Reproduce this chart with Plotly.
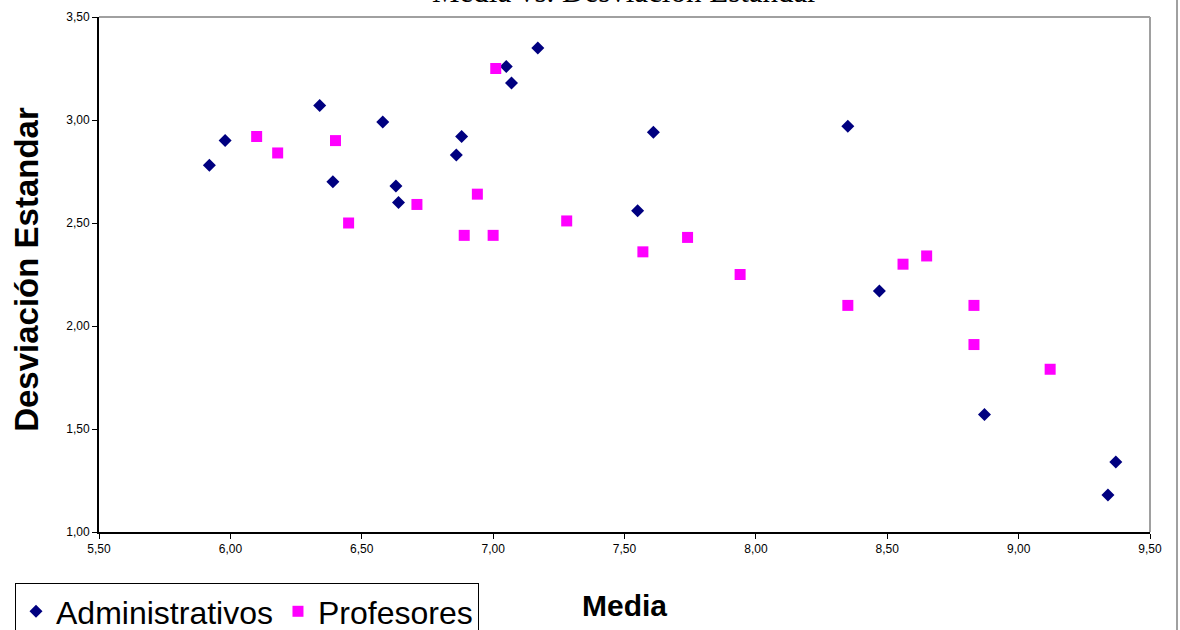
import plotly.graph_objects as go

# Media / Desviacion estandar por grupo
admin_media = [5.92, 5.98, 6.34, 6.39, 6.58, 6.63, 6.64, 6.86, 6.88, 7.05,
               7.07, 7.17, 7.55, 7.61, 8.35, 8.47, 8.87, 9.37, 9.34]
admin_desv = [2.78, 2.90, 3.07, 2.70, 2.99, 2.68, 2.60, 2.83, 2.92, 3.26,
              3.18, 3.35, 2.56, 2.94, 2.97, 2.17, 1.57, 1.34, 1.18]

prof_media = [6.10, 6.18, 6.40, 6.45, 6.71, 6.89, 6.94, 7.00, 7.01, 7.28,
              7.57, 7.74, 7.94, 8.35, 8.56, 8.65, 8.83, 8.83, 9.12]
prof_desv = [2.92, 2.84, 2.90, 2.50, 2.59, 2.44, 2.64, 2.44, 3.25, 2.51,
             2.36, 2.43, 2.25, 2.10, 2.30, 2.34, 2.10, 1.91, 1.79]

x_ticks = [5.5, 6.0, 6.5, 7.0, 7.5, 8.0, 8.5, 9.0, 9.5]
y_ticks = [1.0, 1.5, 2.0, 2.5, 3.0, 3.5]

SANS = "Liberation Sans, Arial, sans-serif"

fig = go.Figure()
fig.add_trace(go.Scatter(x=admin_media, y=admin_desv, mode="markers",
                         name="Administrativos",
                         marker=dict(symbol="diamond", size=10, color="#000080",
                                     line=dict(width=0))))
fig.add_trace(go.Scatter(x=prof_media, y=prof_desv, mode="markers",
                         name="Profesores",
                         marker=dict(symbol="square", size=11, color="#FF00FF",
                                     line=dict(width=0))))

axis_common = dict(showgrid=False, zeroline=False, showline=True,
                   linecolor="black", linewidth=2, ticks="outside",
                   ticklen=5, tickcolor="black", tickwidth=1,
                   tickformat=".2f",
                   tickfont=dict(family=SANS, size=12, color="black"))

fig.update_xaxes(range=[5.5, 9.5], tickvals=x_ticks, **axis_common)
fig.update_yaxes(range=[1.0, 3.5], tickvals=y_ticks, **axis_common)

# borde gris superior y derecho del area de trazado
fig.add_shape(type="line", xref="paper", yref="paper", x0=0, x1=1, y0=1, y1=1,
              line=dict(color="#A0A0A0", width=2))
fig.add_shape(type="line", xref="paper", yref="paper", x0=1, x1=1, y0=0, y1=1,
              line=dict(color="#A0A0A0", width=2))
fig.add_shape(type="line", xref="paper", yref="paper", x0=1.0257, x1=1.0257,
              y0=-0.2, y1=1.1, line=dict(color="#A0A0A0", width=2))

fig.add_annotation(text="Media vs. Desviación Estandar", xref="paper", yref="paper",
                   x=0.5, y=1.049, xanchor="center", yanchor="middle",
                   showarrow=False,
                   font=dict(family="Liberation Serif, Times New Roman, serif",
                             size=31, color="black"))
fig.add_annotation(text="<b>Media</b>", xref="paper", yref="paper",
                   x=0.5, y=-0.143, xanchor="center", yanchor="middle",
                   showarrow=False, font=dict(family=SANS, size=30, color="black"))
fig.add_annotation(text="<b>Desviación Estandar</b>", xref="paper", yref="paper",
                   x=-0.069, y=0.51, xanchor="center", yanchor="middle",
                   textangle=-90, showarrow=False,
                   font=dict(family=SANS, size=33, color="black"))

fig.update_layout(
    width=1180, height=630,
    margin=dict(l=99, r=30, t=17, b=98, autoexpand=False),
    paper_bgcolor="white", plot_bgcolor="white",
    separators=",.",
    showlegend=True,
    legend=dict(orientation="h", x=-0.0799, xanchor="left",
                y=-0.099, yanchor="top",
                bordercolor="black", borderwidth=1, bgcolor="white",
                font=dict(family=SANS, size=32, color="black"),
                itemsizing="trace"),
)

# sin margen de pagina, para que la figura ocupe toda la ventana
fig.write_html("out.html", config={"displayModeBar": False},
               post_script="document.body.style.margin='0';")
